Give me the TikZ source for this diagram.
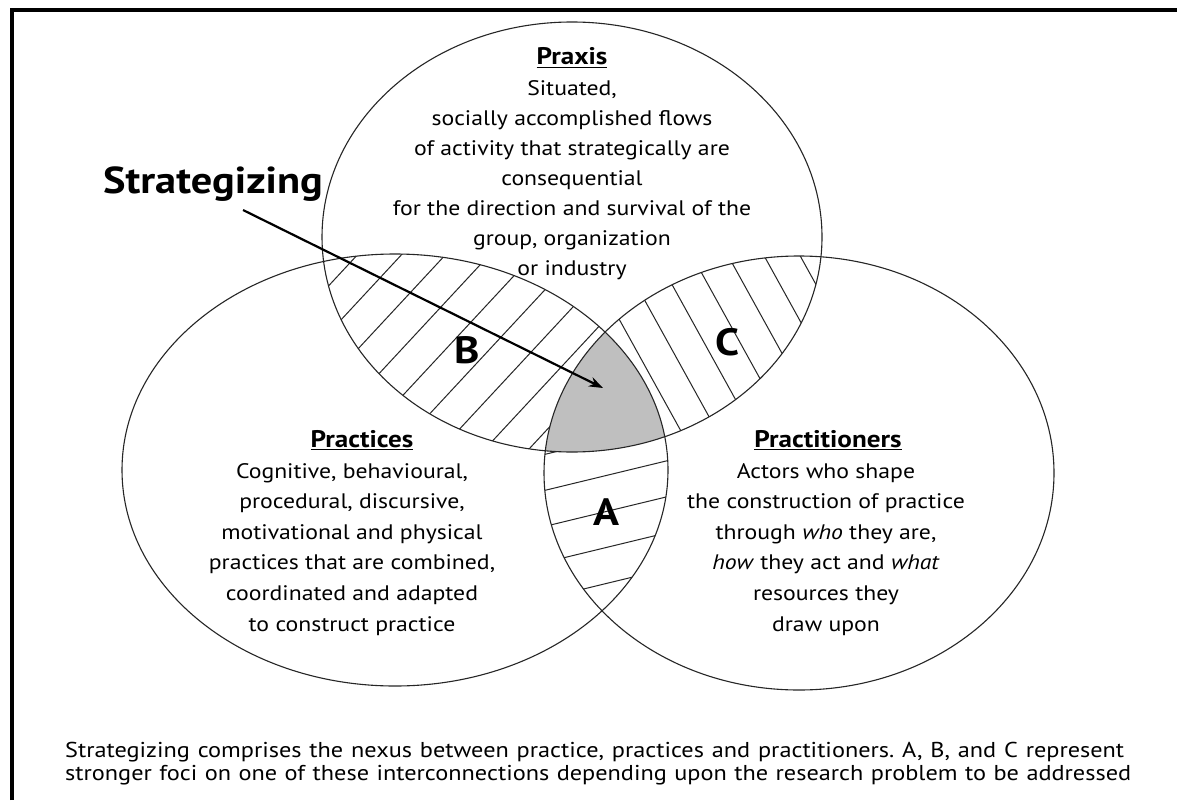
\documentclass[tikz,border=0pt]{standalone}
\usepackage{fontspec}
\setmainfont{PT Sans}[FakeStretch=1.13]
\usetikzlibrary{arrows.meta}
\frenchspacing
\begin{document}
\begin{tikzpicture}[x=1pt,y=-1pt,
  outline/.style={draw=black!85, line width=1.1pt},
  hatch/.style={draw=black!85, line width=1pt},
  body/.style={align=center, font=\fontsize{21}{30}\selectfont, inner sep=0pt},
  bodywide/.style={align=center, font=\fontsize{21}{30.6}\selectfont, inner sep=0pt},
  heading/.style={font=\bfseries\fontsize{24}{28}\selectfont, inner sep=0pt},
  region/.style={font=\bfseries\fontsize{38}{40}\selectfont, inner sep=0pt},
  caption/.style={font=\fontsize{21.5}{24}\selectfont, inner sep=0pt},
]
\useasboundingbox (0,0) rectangle (1177,800);
\fill[white] (0,0) rectangle (1177,800);

% outer frame (only left and top sides fall inside the page)
\draw[line width=4pt] (12,800) -- (12,10) -- (1177,10);

% B: praxis x practices
\begin{scope}
  \clip (572,237) ellipse [x radius=250pt, y radius=215pt];
  \clip (395,470) ellipse [x radius=273pt, y radius=216pt];
  \foreach \k in {-9,...,9}
    \draw[hatch] ({445+44*\k-170},533) -- ({445+44*\k+170},167);
\end{scope}

% C: praxis x practitioners
\begin{scope}
  \clip (572,237) ellipse [x radius=250pt, y radius=215pt];
  \clip (799,473) ellipse [x radius=255pt, y radius=217pt];
  \foreach \k in {-9,...,9}
    \draw[hatch] ({687+36*\k-121},223) -- ({687+36*\k+121},661);
\end{scope}

% A: practices x practitioners
\begin{scope}
  \clip (395,470) ellipse [x radius=273pt, y radius=216pt];
  \clip (799,473) ellipse [x radius=255pt, y radius=217pt];
  \foreach \k in {-9,...,9}
    \draw[hatch] (406,{477+36*\k+47}) -- (794,{477+36*\k-47});
\end{scope}

% the shared core of all three
\begin{scope}
  \clip (572,237) ellipse [x radius=250pt, y radius=215pt];
  \clip (395,470) ellipse [x radius=273pt, y radius=216pt];
  \fill[black!25] (799,473) ellipse [x radius=255pt, y radius=217pt];
\end{scope}

% the three circles
\draw[outline] (572,237) ellipse [x radius=250pt, y radius=215pt];
\draw[outline] (395,470) ellipse [x radius=273pt, y radius=216pt];
\draw[outline] (799,473) ellipse [x radius=255pt, y radius=217pt];

% Praxis (multi-line nodes sit on the baseline of their last line)
\node[heading, anchor=base] (praxhead) at (572,65) {\underline{Praxis}};
\node[body, anchor=base] (praxtext) at (572,275) {Situated,\\
  socially accomplished flows\\
  of activity that strategically are\\
  consequential\\
  for the direction and survival of the\\
  group, organization\\
  or industry};

% Practices
\node[heading, anchor=base] (practhead) at (362,447) {\underline{Practices}};
\node[bodywide, anchor=base] (practtext) at (352,631) {Cognitive, behavioural,\\
  procedural, discursive,\\
  motivational and physical\\
  practices that are combined,\\
  coordinated and adapted\\
  to construct practice};

% Practitioners
\node[heading, anchor=base] (pracrhead) at (828,447) {\underline{Practitioners}};
\node[bodywide, anchor=base] (pracrtext) at (826,631) {Actors who shape\\
  the construction of practice\\
  through \textit{who} they are,\\
  \textit{how} they act and \textit{what}\\
  resources they\\
  draw upon};

% region letters
\node[region] (labA) at (606,512) {A};
\node[region] (labB) at (467,350) {B};
\node[region] (labC) at (727,342) {C};

% pointer to the core
\node[font=\bfseries\fontsize{37.5}{40}\selectfont, anchor=base, inner sep=0pt] (strat) at (213,193) {Strategizing};
\coordinate (arrowfrom) at (243,210);
\coordinate (core) at (603,388);
\draw[line width=2.2pt, -{Stealth[length=14pt,width=10pt]}] (arrowfrom) -- (core);

% caption
\node[caption, anchor=base west] (cap1) at (65,757) {\makebox[1059pt][s]{Strategizing comprises the nexus between practice, practices and practitioners. A, B, and C represent}};
\node[caption, anchor=base west] (cap2) at (65,780) {\makebox[1066pt][s]{stronger foci on one of these interconnections depending upon the research problem to be addressed}};
\end{tikzpicture}
\end{document}
